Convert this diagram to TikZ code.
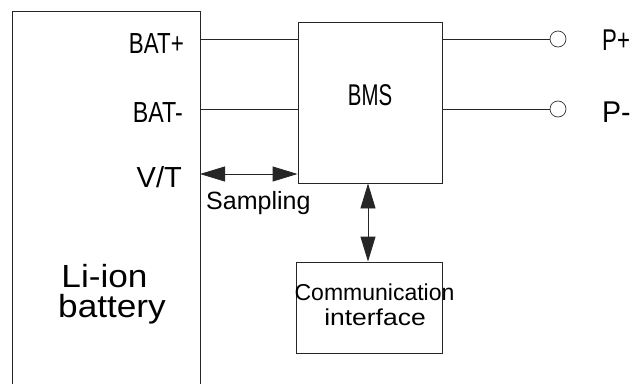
\documentclass[tikz,border=0pt]{standalone}
\usepackage{fontspec}
\setmainfont{Liberation Sans}
\usetikzlibrary{arrows.meta}
\begin{document}
\begin{tikzpicture}[x=1pt,y=-1pt,
  wire/.style={draw=black!85,line width=0.9pt},
  blk/.style={draw=black!85,line width=0.9pt,rectangle,inner sep=0pt},
  term/.style={draw=black!80,line width=0.7pt,circle,minimum size=16pt,inner sep=0pt,fill=white},
  dbl/.style={wire,{Triangle[length=25pt,width=15pt]}-{Triangle[length=25pt,width=15pt]}},
  pin/.style={inner sep=0pt,font=\fontsize{29}{30}\selectfont},
  lab/.style={inner sep=0pt}]
\useasboundingbox (0,0) rectangle (632,383);
% battery (open at bottom)
\coordinate (btl) at (12,11);
\coordinate (btr) at (200,11);
\coordinate (bbl) at (12,390);
\coordinate (bbr) at (200,390);
\draw[wire] (bbl) -- (btl) -- (btr) -- (bbr);
% pins
\coordinate (bp) at (200,39);
\coordinate (bm) at (200,109);
\coordinate (vt) at (200,174);
% BMS
\node[blk,minimum width=144pt,minimum height=161pt] (bms) at (370,102.5) {};
\node[lab,anchor=base,font=\fontsize{30}{31}\selectfont] (bmst) at (370,105) {\scalebox{0.68}[1]{BMS}};
% communication
\node[blk,minimum width=146pt,minimum height=91pt] (comm) at (369,307.5) {};
\node[lab,anchor=base,font=\fontsize{23}{24}\selectfont] (comm1) at (374.5,300) {Communication};
\node[lab,anchor=base,font=\fontsize{23}{24}\selectfont] (comm2) at (375,325) {\scalebox{1.15}[1]{interface}};
% terminals
\node[term] (pp) at (558,39) {};
\node[term] (pm) at (558,109) {};
% wires
\draw[wire] (bp) -- (bp -| bms.west);
\draw[wire] (bm) -- (bm -| bms.west);
\draw[wire] (pp -| bms.east) -- (pp.west);
\draw[wire] (pm -| bms.east) -- (pm.west);
\draw[dbl] (vt) -- (vt -| bms.west);
\draw[dbl] (bms.south -| 368,0) -- (comm.north -| 368,0);
% labels
\node[pin,anchor=base east] (lbp) at (184,53) {\scalebox{0.77}[1]{BAT+}};
\node[pin,anchor=base east] (lbm) at (183,122) {\scalebox{0.8}[1]{BAT-}};
\node[pin,anchor=base east] (lvt) at (182,187) {V/T};
\node[lab,anchor=base west,font=\fontsize{25}{26}\selectfont] (samp) at (206,209) {Sampling};
\node[lab,anchor=base west,font=\fontsize{30}{31}\selectfont] (lpp) at (602,50) {\scalebox{0.74}[1]{P+}};
\node[lab,anchor=base west,font=\fontsize{30}{31}\selectfont] (lpm) at (602,122) {\scalebox{0.95}[1]{P-}};
\node[lab,anchor=base,font=\fontsize{32}{33}\selectfont] (li1) at (104.5,287) {\scalebox{1.1}[1]{Li-ion}};
\node[lab,anchor=base,font=\fontsize{32}{33}\selectfont] (li2) at (112,317) {\scalebox{1.1}[1]{battery}};
\end{tikzpicture}
\end{document}
